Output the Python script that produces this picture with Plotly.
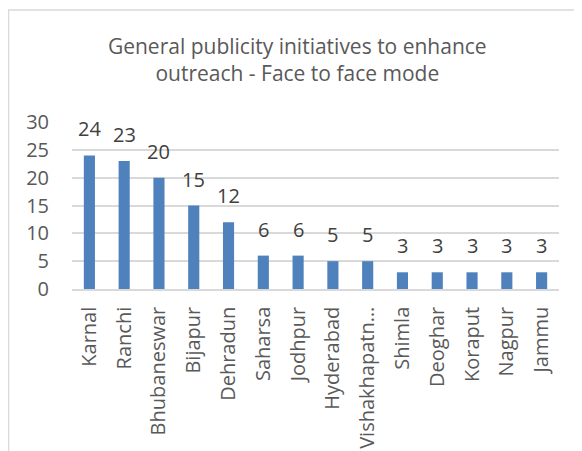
import plotly.graph_objects as go

categories = ["Karnal", "Ranchi", "Bhubaneswar", "Bijapur", "Dehradun", "Saharsa",
              "Jodhpur", "Hyderabad", "Vishakhapatn…", "Shimla", "Deoghar",
              "Koraput", "Nagpur", "Jammu"]
values = [24, 23, 20, 15, 12, 6, 6, 5, 5, 3, 3, 3, 3, 3]
y_ticks = [0, 5, 10, 15, 20, 25, 30]

FONT = "Open Sans"
GRAY = "#595959"
FS = 20

fig = go.Figure(go.Bar(
    x=categories, y=values,
    marker=dict(color="#4F81BD", line=dict(width=0)),
    hoverinfo="x+y",
))

# data labels above bars
for c, v in zip(categories, values):
    fig.add_annotation(x=c, y=v, text=str(v), showarrow=False, xanchor="center",
                       yanchor="bottom", yshift=11,
                       font=dict(family=FONT, size=FS, color="#404040"))

# page body has an 8px margin, so the figure is sized to fit the window
W, H = 574, 443
L, R, T, B = 64, 23, 114, 162
ph = H - T - B
pw = W - L - R

fig.update_layout(
    width=W, height=H,
    margin=dict(l=L, r=R, t=T, b=B, autoexpand=False),
    paper_bgcolor="white", plot_bgcolor="white",
    bargap=0.68,
    showlegend=False,
    title=dict(text="General publicity initiatives to enhance<br>outreach - Face to face mode",
               x=0.504, xanchor="center", y=1 - 46 / H, yanchor="top",
               font=dict(family=FONT, size=21, color=GRAY), automargin=False),
    font=dict(family=FONT, size=FS, color=GRAY),
)
fig.update_yaxes(range=[0, 30], tickvals=y_ticks, showgrid=True, gridcolor="#D9D9D9",
                 gridwidth=1.5, zeroline=False, showline=False, ticks="", automargin=False,
                 tickfont=dict(family=FONT, size=FS, color=GRAY), ticklabelstandoff=22)
fig.update_xaxes(tickangle=-90, showline=True, linecolor="#D9D9D9", linewidth=1.5,
                 ticks="", automargin=False, ticklabelstandoff=8,
                 tickfont=dict(family=FONT, size=FS, color=GRAY))

# chart border
fig.add_shape(type="rect", xref="paper", yref="paper",
              x0=(0.5 - L) / pw, x1=(W + 10 - L) / pw,
              y0=(H - B - (H + 10)) / ph, y1=(H - B - 2) / ph,
              line=dict(color="#D9D9D9", width=1.5), fillcolor="rgba(0,0,0,0)", layer="below")

fig.write_html("out.html")
